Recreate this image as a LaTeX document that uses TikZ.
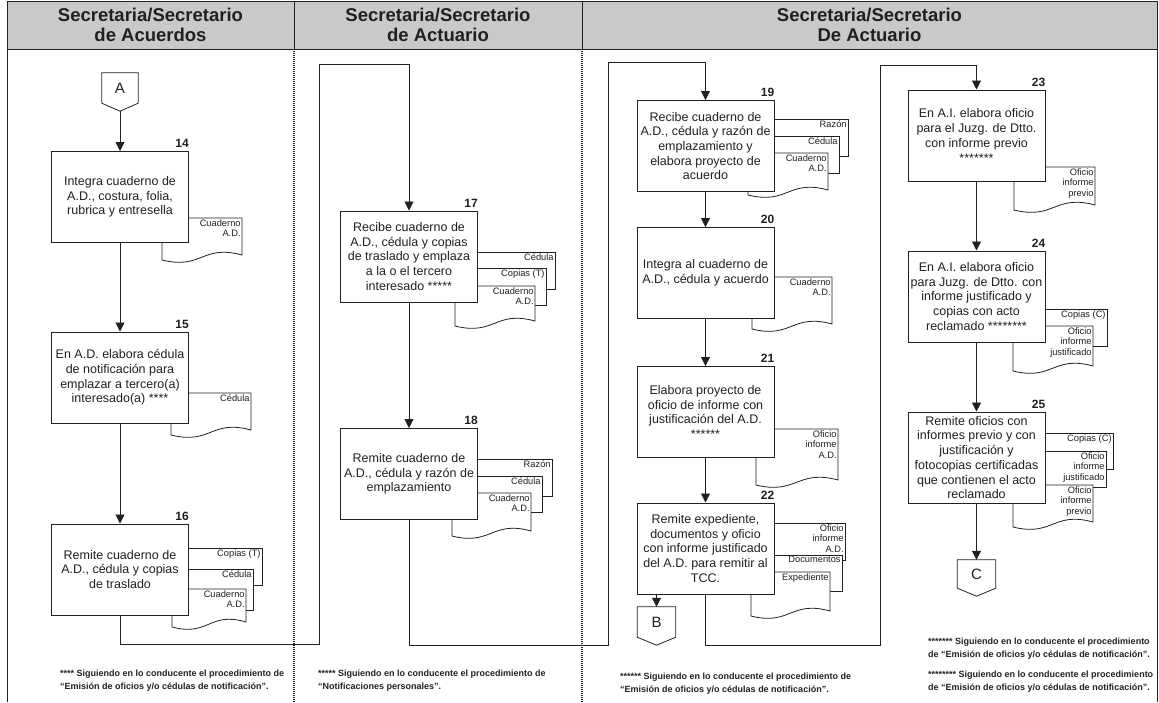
\documentclass[tikz,border=0pt]{standalone}
\usepackage{fontspec}
\setmainfont{Liberation Sans}
\usetikzlibrary{arrows.meta}

\definecolor{headgray}{RGB}{200,201,203}
\definecolor{ink}{RGB}{35,31,32}

\tikzset{
  procbox/.style={draw=ink, fill=white, line width=1pt, minimum width=137pt, minimum height=91pt,
    align=center, inner sep=1pt, font=\fontsize{12.5}{14.7}\selectfont},
  numlbl/.style={anchor=south east, inner sep=0pt, yshift=3pt, font=\bfseries\fontsize{12}{14}\selectfont},
  docline/.style={draw=ink, fill=white, line width=0.8pt},
  doclabel/.style={anchor=north east, align=right, inner sep=1.2pt, font=\fontsize{9.3}{10.5}\selectfont},
  arr/.style={draw=ink, line width=0.8pt, -{Triangle[length=9pt,width=9pt]}},
  offpg/.style={minimum width=38pt, minimum height=30pt, inner sep=0pt, font=\fontsize{15}{15}\selectfont},
  lanesep/.style={line width=1.4pt, dash pattern=on 1pt off 1pt},
  headtxt/.style={align=center, font=\bfseries\fontsize{18.5}{20}\selectfont},
  notetxt/.style={anchor=north west, align=left, inner sep=0pt, font=\bfseries\fontsize{9}{12.5}\selectfont},
}

% left, top, right, bottom, name, label
\newcommand{\frontdoc}[6]{%
  \draw[docline] (#1,#2) -- (#3,#2) -- (#3,#4-5)
    .. controls ({(#1+#3)/2},#4-16) and ({(#1+#3)/2},#4+10) .. (#1,#4) -- cycle;
  \node[doclabel] (#5) at (#3,#2) {#6};}
\newcommand{\backdoc}[6]{%
  \draw[docline] (#1,#2) rectangle (#3,#4);
  \node[doclabel] (#5) at (#3,#2) {#6};}

\begin{document}
\begin{tikzpicture}[x=1pt, y=-1pt, color=ink]
    \useasboundingbox (0,0) rectangle (1159,702);

    % lanes
    \draw[line width=0.8pt, fill=headgray] (7,1) rectangle (1157,49);
    \draw[line width=0.8pt] (7,49) -- (7,702) (1157,49) -- (1157,702);
    \draw[line width=0.8pt] (294,1) -- (294,49) (582,1) -- (582,49);
    \draw[lanesep] (294,49) -- (294,702);
    \draw[lanesep] (582,49) -- (582,702);

    \node[headtxt] (h1) at (150.5,25) {Secretaria/Secretario\\de Acuerdos};
    \node[headtxt] (h2) at (438,25) {Secretaria/Secretario\\de Actuario};
    \node[headtxt] (h3) at (869.5,25) {Secretaria/Secretario\\De Actuario};

    % documents
    \frontdoc{162}{218}{242}{260}{d14}{Cuaderno\\A.D.}
    \frontdoc{171}{393}{251}{435}{d15}{Cédula}
    \backdoc{172}{548}{262}{585}{d16a}{Copias (T)}
    \backdoc{172}{569}{253}{610}{d16b}{Cédula}
    \frontdoc{172}{589}{246}{627}{d16c}{Cuaderno\\A.D.}

    \backdoc{455}{252}{555}{289}{d17a}{Cédula}
    \backdoc{455}{268}{546}{305}{d17b}{Copias (T)}
    \frontdoc{455}{286}{535}{326}{d17c}{Cuaderno\\A.D.}
    \backdoc{452}{459}{552}{496}{d18a}{Razón}
    \backdoc{452}{476}{542}{512}{d18b}{Cédula}
    \frontdoc{452}{493}{531}{536}{d18c}{Cuaderno\\A.D.}

    \backdoc{748}{119}{848}{156}{d19a}{Razón}
    \backdoc{748}{136}{839}{173}{d19b}{Cédula}
    \frontdoc{748}{153}{828}{195}{d19c}{Cuaderno\\A.D.}
    \frontdoc{752}{277}{832}{329}{d20}{Cuaderno\\A.D.}
    \frontdoc{756}{429}{838}{485}{d21}{Oficio\\informe\\A.D.}
    \backdoc{751}{523}{845}{560}{d22a}{Oficio\\informe\\A.D.}
    \backdoc{751}{555}{842}{591}{d22b}{Documentos}
    \frontdoc{751}{572}{830}{616}{d22c}{Expediente}

    \frontdoc{1014}{167}{1095}{210}{d23}{Oficio\\informe\\previo}
    \backdoc{1013}{309}{1107}{346}{d24a}{Copias (C)}
    \frontdoc{1013}{326}{1093}{371}{d24b}{Oficio\\informe\\justificado}
    \backdoc{1013}{433}{1113}{469}{d25a}{Copias (C)}
    \backdoc{1013}{451}{1106}{487}{d25b}{Oficio\\informe\\justificado}
    \frontdoc{1013}{485}{1093}{527}{d25c}{Oficio\\informe\\previo}

    % activities
    \node[procbox] (b14) at (120,197) {Integra cuaderno de\\A.D., costura, folia,\\rubrica y entresella};
    \node[procbox] (b15) at (120,377.5) {En A.D. elabora cédula\\de notificación para\\emplazar a tercero(a)\\interesado(a) ****};
    \node[procbox] (b16) at (120,569.5) {Remite cuaderno de\\A.D., cédula y copias\\de traslado};
    \node[procbox] (b17) at (409,256.5) {Recibe cuaderno de\\A.D., cédula y copias\\de traslado y emplaza\\a la o el tercero\\interesado *****};
    \node[procbox] (b18) at (409,474) {Remite cuaderno de\\A.D., cédula y razón de\\emplazamiento};
    \node[procbox] (b19) at (705.5,146) {Recibe cuaderno de\\A.D., cédula y razón de\\emplazamiento y\\elabora proyecto de\\acuerdo};
    \node[procbox] (b20) at (705.5,273) {Integra al cuaderno de\\A.D., cédula y acuerdo};
    \node[procbox] (b21) at (705.5,412) {Elabora proyecto de\\oficio de informe con\\justificación del A.D.\\******};
    \node[procbox] (b22) at (705.5,548.5) {Remite expediente,\\documentos y oficio\\con informe justificado\\del A.D. para remitir al\\TCC.};
    \node[procbox] (b23) at (976.5,135.5) {En A.I. elabora oficio\\para el Juzg. de Dtto.\\con informe previo\\*******};
    \node[procbox] (b24) at (976.5,296.5) {En A.I. elabora oficio\\para Juzg. de Dtto. con\\informe justificado y\\copias con acto\\reclamado ********};
    \node[procbox] (b25) at (976.5,457.5) {Remite oficios con\\informes previo y con\\justificación y\\fotocopias certificadas\\que contienen el acto\\reclamado};

    \foreach \n in {14,...,25}
        \node[numlbl] (n\n) at (b\n.north east) {\n};

    % off-page connectors
    \node[offpg, minimum width=36pt] (A) at (120,88) {A};
    \node[offpg] (B) at (656.5,622) {B};
    \node[offpg, minimum height=28pt] (C) at (976.5,574) {C};
    \foreach \c in {A,B,C}
        \draw[line width=0.8pt] (\c.north west) -- (\c.north east) -- (\c.south east)
            -- ([yshift=-8pt]\c.south) -- (\c.south west) -- cycle;

    % flow
    \coordinate (c2bot) at (319,644);
    \coordinate (c2top) at (319,64);
    \coordinate (c3bot) at (608.5,645);
    \coordinate (c3top) at (608.5,62);
    \coordinate (c4bot) at (880,645);
    \coordinate (c4top) at (880,65);

    \draw[arr] ([yshift=-8pt]A.south) -- (b14);
    \draw[arr] (b14) -- (b15);
    \draw[arr] (b15) -- (b16);
    \draw[arr] (b16.south) |- (c2bot) -- (c2top) -| (b17.north);
    \draw[arr] (b17) -- (b18);
    \draw[arr] (b18.south) |- (c3bot) -- (c3top) -| (b19.north);
    \draw[arr] (b19) -- (b20);
    \draw[arr] (b20) -- (b21);
    \draw[arr] (b21) -- (b22);
    \draw[arr] (b22.south -| B.north) -- (B.north);
    \draw[arr] (b22.south) |- (c4bot) -- (c4top) -| (b23.north);
    \draw[arr] (b23) -- (b24);
    \draw[arr] (b24) -- (b25);
    \draw[arr] (b25) -- (C);

    % notes
    \node[notetxt] (f1) at (60,670) {**** Siguiendo en lo conducente el procedimiento de\\“Emisión de oficios y/o cédulas de notificación”.};
    \node[notetxt] (f2) at (318,670) {***** Siguiendo en lo conducente el procedimiento de\\“Notificaciones personales”.};
    \node[notetxt] (f3) at (620,673) {****** Siguiendo en lo conducente el procedimiento de\\“Emisión de oficios y/o cédulas de notificación”.};
    \node[notetxt] (f4) at (928,638) {******* Siguiendo en lo conducente el procedimiento\\de “Emisión de oficios y/o cédulas de notificación”.};
    \node[notetxt] (f5) at (928,671) {******** Siguiendo en lo conducente el procedimiento\\de “Emisión de oficios y/o cédulas de notificación”.};
\end{tikzpicture}
\end{document}
